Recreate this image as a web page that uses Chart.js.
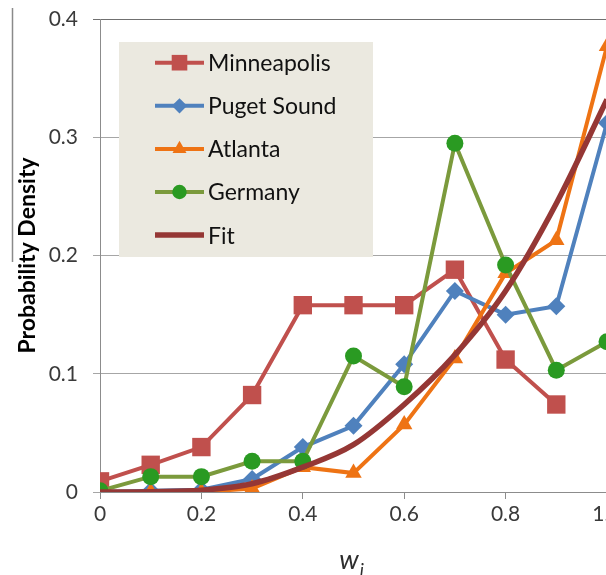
<!DOCTYPE html>
<html>
<head>
<meta charset="utf-8">
<script src="https://cdn.jsdelivr.net/npm/chart.js@4.4.1/dist/chart.umd.min.js"></script>
<style>
  html, body { margin: 0; padding: 0; background: #ffffff; overflow: hidden; }
  #wrap { position: relative; width: 640px; height: 575px; }
</style>
</head>
<body>
<div id="wrap"><canvas id="c" width="640" height="575"></canvas></div>
<script>
// w_i values at which each density was evaluated
const wValues = [0, 0.1, 0.2, 0.3, 0.4, 0.5, 0.6, 0.7, 0.8, 0.9, 1.0];

// Probability density per region
const minneapolis = [0.009, 0.023, 0.038, 0.082, 0.158, 0.158, 0.158, 0.188, 0.112, 0.074, null];
const pugetSound  = [0.000, 0.001, 0.002, 0.011, 0.038, 0.056, 0.108, 0.170, 0.150, 0.157, 0.312];
const atlanta     = [0.000, 0.000, 0.000, 0.003, 0.021, 0.016, 0.057, 0.113, 0.185, 0.213, 0.377];
const germany     = [0.001, 0.013, 0.013, 0.026, 0.026, 0.115, 0.089, 0.295, 0.192, 0.103, 0.127];
const fit         = [0.000, 0.0003, 0.0015, 0.007, 0.021, 0.040, 0.074, 0.116, 0.170, 0.244, 0.332];

const seriesNames = ['Minneapolis', 'Puget Sound', 'Atlanta', 'Germany', 'Fit'];
const xTicks = [0, 0.2, 0.4, 0.6, 0.8, 1];
const yTicks = [0, 0.1, 0.2, 0.3, 0.4];

const toPoints = arr => wValues.map((w, i) => ({ x: w, y: arr[i] }));

const FONT = 'Lato, "Open Sans", sans-serif';
const AXIS_GRAY = '#8c8c8c';
const TEXT = '#3a3a3a';

// Simple marker painter for the legend samples
function drawMarker(ctx, style, x, y, r, color) {
  ctx.save();
  ctx.fillStyle = color;
  ctx.beginPath();
  if (style === 'rect') {
    const s = Math.SQRT1_2 * r;
    ctx.rect(x - s, y - s, 2 * s, 2 * s);
  } else if (style === 'rectRot') {
    ctx.moveTo(x, y - r); ctx.lineTo(x + r, y); ctx.lineTo(x, y + r); ctx.lineTo(x - r, y);
    ctx.closePath();
  } else if (style === 'triangle') {
    for (let k = 0; k < 3; k++) {
      const a = k * 2 * Math.PI / 3;
      const px = x + Math.sin(a) * r, py = y - Math.cos(a) * r;
      k === 0 ? ctx.moveTo(px, py) : ctx.lineTo(px, py);
    }
    ctx.closePath();
  } else if (style === 'circle') {
    ctx.arc(x, y, r, 0, Math.PI * 2);
  }
  ctx.fill();
  ctx.restore();
}

// Legend box drawn inside the plot area
const insetLegend = {
  id: 'insetLegend',
  afterDatasetsDraw(chart) {
    const ctx = chart.ctx;
    ctx.save();
    ctx.fillStyle = '#ebe9e0';
    ctx.fillRect(119, 42, 254, 215);
    ctx.font = '23px ' + FONT;
    ctx.textBaseline = 'middle';
    ctx.textAlign = 'left';
    chart.data.datasets.forEach((ds, i) => {
      const y = 62.7 + i * 43.1;
      ctx.strokeStyle = ds.borderColor;
      ctx.lineWidth = ds.borderWidth;
      ctx.lineCap = 'butt';
      ctx.beginPath();
      ctx.moveTo(155, y);
      ctx.lineTo(204, y);
      ctx.stroke();
      if (ds.pointRadius > 0) {
        drawMarker(ctx, ds.pointStyle, 179.5, y, ds.pointRadius * 0.85, ds.pointBackgroundColor);
      }
      ctx.fillStyle = '#111111';
      ctx.fillText(ds.label, 208, y + 1);
    });
    ctx.restore();
  }
};

// Frame line on the left edge and the w_i axis title
const decorations = {
  id: 'decorations',
  beforeDraw(chart) {
    const ctx = chart.ctx;
    ctx.save();
    ctx.strokeStyle = '#8a8a8a';
    ctx.lineWidth = 1.5;
    ctx.beginPath();
    ctx.moveTo(12.5, 8);
    ctx.lineTo(12.5, 262);
    ctx.stroke();
    ctx.restore();
  },
  afterDraw(chart) {
    const ctx = chart.ctx;
    ctx.save();
    ctx.fillStyle = '#2e2e2e';
    ctx.textBaseline = 'alphabetic';
    ctx.textAlign = 'left';
    ctx.font = 'italic 27px ' + FONT;
    const wW = ctx.measureText('w').width;
    const x0 = 352 - wW / 2 - 3;
    ctx.fillText('w', x0, 569);
    ctx.font = 'italic 18px ' + FONT;
    ctx.fillText('i', x0 + wW + 1, 576);
    ctx.restore();
  }
};

const ticksFrom = list => scale => { scale.ticks = list.map(v => ({ value: v })); };

new Chart(document.getElementById('c'), {
  type: 'line',
  data: {
    datasets: [
      {
        label: seriesNames[0], data: toPoints(minneapolis), order: 5,
        borderColor: '#c0504d', borderWidth: 4,
        pointStyle: 'rect', pointRadius: 13, pointBackgroundColor: '#c0504d',
        pointBorderColor: '#c0504d', pointBorderWidth: 0
      },
      {
        label: seriesNames[1], data: toPoints(pugetSound), order: 4,
        borderColor: '#4f81bd', borderWidth: 4,
        pointStyle: 'rectRot', pointRadius: 9, pointBackgroundColor: '#4f81bd',
        pointBorderColor: '#4f81bd', pointBorderWidth: 0
      },
      {
        label: seriesNames[2], data: toPoints(atlanta), order: 3,
        borderColor: '#ee7314', borderWidth: 4,
        pointStyle: 'triangle', pointRadius: 9.5, pointBackgroundColor: '#ee7314',
        pointBorderColor: '#ee7314', pointBorderWidth: 0
      },
      {
        label: seriesNames[3], data: toPoints(germany), order: 2,
        borderColor: '#7b9a3c', borderWidth: 4,
        pointStyle: 'circle', pointRadius: 8.5, pointBackgroundColor: '#2a9a22',
        pointBorderColor: '#2a9a22', pointBorderWidth: 0
      },
      {
        label: seriesNames[4], data: toPoints(fit), order: 1,
        borderColor: '#953735', borderWidth: 5.5,
        pointRadius: 0, cubicInterpolationMode: 'monotone', tension: 0.4
      }
    ]
  },
  options: {
    responsive: false,
    animation: false,
    devicePixelRatio: 1,
    spanGaps: false,
    layout: { padding: { top: 19, right: 33, left: 0, bottom: 0 } },
    plugins: { legend: { display: false }, tooltip: { enabled: false } },
    scales: {
      x: {
        type: 'linear', min: 0, max: 1,
        afterBuildTicks: ticksFrom(xTicks),
        afterFit: s => { s.height = 83; s.paddingLeft = 0; s.paddingRight = 0; },
        grid: { drawOnChartArea: false, drawTicks: true, tickLength: 7, color: AXIS_GRAY },
        border: { color: AXIS_GRAY, width: 1 },
        ticks: { font: { family: FONT, size: 21 }, color: TEXT, padding: 3, maxRotation: 0 }
      },
      y: {
        type: 'linear', min: 0, max: 0.4,
        afterBuildTicks: ticksFrom(yTicks),
        afterFit: s => { s.width = 100; s.paddingTop = 0; s.paddingBottom = 0; },
        grid: {
          drawTicks: true, tickLength: 7,
          color: ctx => (ctx.tick && ctx.tick.value === 0.4) ? '#707070' : '#a6a6a6'
        },
        border: { color: AXIS_GRAY, width: 1 },
        ticks: { font: { family: FONT, size: 21 }, color: TEXT, padding: 15 },
        title: {
          display: true, text: 'Probability Density',
          font: { family: FONT, size: 23, weight: 'bold' }, color: '#000000',
          padding: { top: 14, bottom: 0 }
        }
      }
    }
  },
  plugins: [decorations, insetLegend]
});
</script>
</body>
</html>
